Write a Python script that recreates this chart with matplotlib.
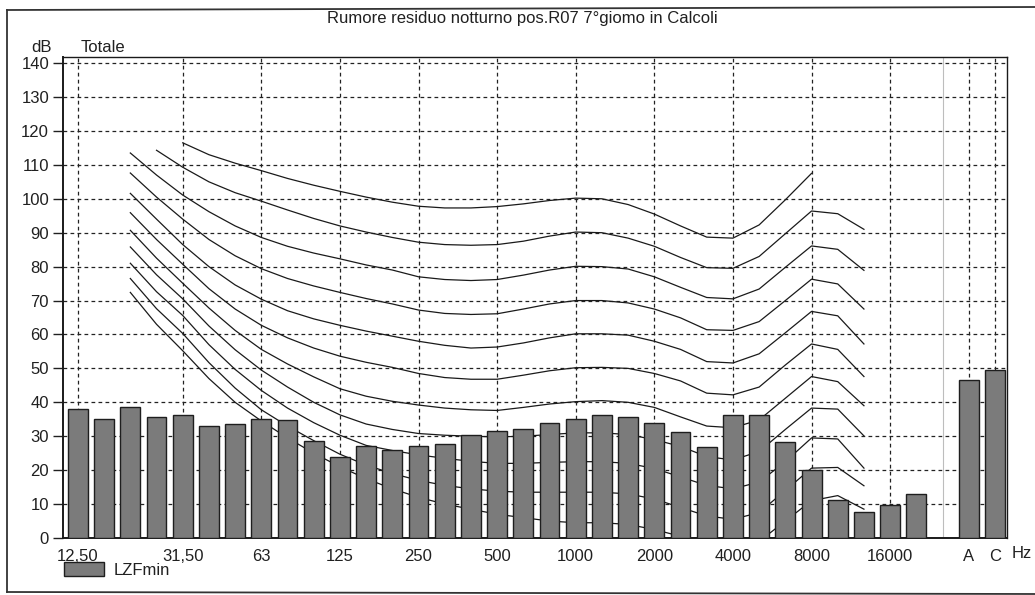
import numpy as np
import matplotlib
matplotlib.use("Agg")
from matplotlib import pyplot as plt
from matplotlib.lines import Line2D

plt.rcParams['font.family'] = ['Liberation Sans', 'DejaVu Sans']

# 1/3 octave bands (Hz) and the LZFmin spectrum
bands = ['12.5', '16', '20', '25', '31.5', '40', '50', '63', '80', '100',
         '125', '160', '200', '250', '315', '400', '500', '630', '800', '1000',
         '1250', '1600', '2000', '2500', '3150', '4000', '5000', '6300', '8000',
         '10000', '12500', '16000', '20000']
lzfmin = [38.0, 35.2, 38.7, 35.7, 36.4, 32.9, 33.7, 35.2, 34.9, 28.5,
          24.0, 27.0, 25.8, 27.0, 27.6, 30.5, 31.5, 32.2, 34.0, 35.0,
          36.3, 35.8, 33.8, 31.2, 26.7, 36.3, 36.3, 28.2, 20.0,
          11.2, 7.8, 9.8, 13.1]

# weighted totals
weights = ['A', 'C']
lzfmin_weighted = [46.5, 49.5]

# labelled bands on the x axis
octave_bands = ['12.5', '31.5', '63', '125', '250', '500', '1000', '2000',
                '4000', '8000', '16000']
octave_labels = ['12,50', '31,50', '63', '125', '250', '500', '1000', '2000',
                 '4000', '8000', '16000']

# equal loudness contours (phon 100 ... 0), first band of each curve
curve_start = ['31.5', '25', '20', '20', '20', '20', '20', '20', '20', '20', '20']
curves = [
    [116.5, 113, 110.5, 108.3, 106, 104, 102.2, 100.5, 99, 97.8, 97.3, 97.3,
     97.7, 98.5, 99.5, 100.2, 100, 98.3, 95.5, 92, 88.7, 88.4, 92.3, 99.7, 107.5],
    [114.3, 109.3, 105, 101.8, 99.3, 96.7, 94.2, 92, 90.2, 88.6, 87.2, 86.5,
     86.3, 86.5, 87.5, 89, 90.2, 90, 88.4, 86, 82.7, 79.7, 79.5, 83, 89.7,
     96.4, 95.6, 91],
    [113.5, 107, 101.1, 96.2, 92, 88.6, 86, 84, 82.3, 80.5, 79, 77, 76.2, 75.9,
     76.2, 77.5, 79, 80.1, 80, 79.3, 77, 73.9, 70.9, 70.5, 73.4, 79.8, 86.1,
     85.1, 78.9],
    [107.6, 100.5, 94, 88, 83.2, 79.4, 76.5, 74.3, 72.4, 70.6, 69, 67.2, 66.2,
     65.9, 66.1, 67.5, 69, 70, 70, 69.3, 67.5, 64.9, 61.4, 61.2, 63.8, 70, 76.3,
     74.9, 67.5],
    [101.6, 94, 86.5, 80, 74.6, 70.4, 67, 64.6, 62.7, 61, 59.5, 58, 56.8, 56,
     56.3, 57.5, 59, 60.2, 60.2, 59.8, 58, 55.6, 52, 51.6, 54.3, 60.5, 66.8,
     65.5, 57.2],
    [95.9, 88, 80.7, 73.5, 67.5, 62.7, 59, 56, 53.6, 51.8, 50.3, 48.5, 47.3,
     46.8, 46.8, 48, 49.3, 50.2, 50.3, 50, 48.5, 46.3, 42.7, 42.2, 44.5, 51,
     57.2, 55.6, 47.6],
    [90.7, 82.5, 75.1, 67.8, 61.2, 55.6, 51.3, 47.5, 44, 41.8, 40.3, 39.2, 38.3,
     37.8, 37.6, 38.5, 39.5, 40.2, 40.5, 40, 38.5, 35.7, 33, 32.5, 34.8, 41.2,
     47.6, 46.1, 39],
    [85.8, 77.6, 70.5, 62.5, 55.5, 49.5, 44.5, 40, 36.3, 33.6, 32, 30.8, 30.3,
     30, 29.8, 30, 30.5, 31, 31, 30.5, 29, 27, 24, 23, 25.5, 32, 38.3, 38, 30.1],
    [81, 72.6, 65.6, 57, 49.7, 43.5, 38.3, 34, 30.3, 27.3, 25.8, 24.5, 23.5,
     22.6, 22, 22, 22.3, 22.5, 22.5, 22, 20.5, 18, 15.5, 14.5, 16.5, 22.5, 29.5,
     29.2, 20.6],
    [76.5, 67.6, 60.3, 51.7, 44.2, 37.8, 33, 28.7, 24.7, 21.5, 19, 17, 15.5,
     14.5, 13.8, 13.5, 13.5, 13.5, 13.5, 13, 11.5, 9, 6.5, 5.5, 7.5, 14, 20.6,
     20.8, 15.4],
    [72.4, 63, 55.2, 47, 40, 34.5, 29.5, 25, 21, 17.5, 14.5, 12, 10, 8.5, 7, 6,
     5, 4.5, 4.5, 4, 2.5, 0.5, -2, -3, -1, 5, 11, 12.5, 8.5],
]

W, H = 1035, 595
fig = plt.figure(figsize=(W / 100, H / 100), dpi=100)
ax = fig.add_axes([63 / W, 1 - 538 / H, (1007 - 63) / W, (538 - 57) / H])

x = np.arange(len(bands))
xw = len(bands) + 1 + np.arange(len(weights))   # leave one empty slot

bar_kw = dict(width=0.76, color='#7b7b7b', edgecolor='#1e1e1e', linewidth=1.0,
              zorder=3)
bars = ax.bar(x, lzfmin, **bar_kw)
ax.bar(xw, lzfmin_weighted, **bar_kw)

for start, vals in zip(curve_start, curves):
    i0 = bands.index(start)
    ax.plot(x[i0:i0 + len(vals)], vals, color='#1a1a1a', lw=0.9, zorder=2)

ax.set_xlim(-0.57, 35.46)
ax.set_ylim(0, 141.8)

xt = [bands.index(b) for b in octave_bands] + list(xw)
ax.set_xticks(xt)
ax.set_xticklabels(octave_labels + weights)
ax.set_yticks(np.arange(0, 141, 10))

ax.grid(True, color='#222222', linestyle=(0, (3, 2.6)), linewidth=0.9, zorder=1)
ax.axvline(len(bands), color='#bdbdbd', lw=0.8, zorder=1)
ax.set_axisbelow(True)

ax.tick_params(axis='x', length=0, pad=8, labelsize=12, colors='#202020')
ax.tick_params(axis='y', direction='out', length=7, width=1, pad=3,
               labelsize=12, colors='#202020')
for s in ax.spines.values():
    s.set_color('#1a1a1a')
    s.set_linewidth(1.0)
ax.spines['left'].set_linewidth(1.4)
ax.spines['bottom'].set_linewidth(1.4)

fig.text(1022 / W, 1 - 553 / H, 'Hz', ha='center', va='center', fontsize=12,
         color='#202020')
fig.text(522 / W, 1 - 18 / H, 'Rumore residuo notturno pos.R07 7°giomo in Calcoli',
         ha='center', va='center', fontsize=12, color='#202020')
fig.text(42 / W, 1 - 48 / H, 'dB', ha='center', va='center', fontsize=12,
         color='#202020')
fig.text(81 / W, 1 - 48 / H, 'Totale', ha='left', va='center', fontsize=12,
         color='#202020')

# legend
leg = ax.legend([bars], ['LZFmin'], loc='upper left',
                bbox_to_anchor=(61 / W, 1 - 559 / H), bbox_transform=fig.transFigure,
                frameon=False, fontsize=12, handlelength=2.4, handleheight=0.9,
                handletextpad=0.55, borderaxespad=0, borderpad=0.2)
for t in leg.get_texts():
    t.set_color('#202020')

# scanned page frame
frame_kw = dict(color='#333333', lw=1.3, transform=fig.transFigure)
fig.add_artist(Line2D([7 / W, 7 / W], [1 - 10 / H, 1 - 592 / H], **frame_kw))
fig.add_artist(Line2D([7 / W, 1], [1 - 10 / H, 1 - 7 / H], **frame_kw))
fig.add_artist(Line2D([7 / W, 1], [1 - 592 / H, 1 - 594 / H], **frame_kw))

fig.savefig('out.png', dpi=100)
